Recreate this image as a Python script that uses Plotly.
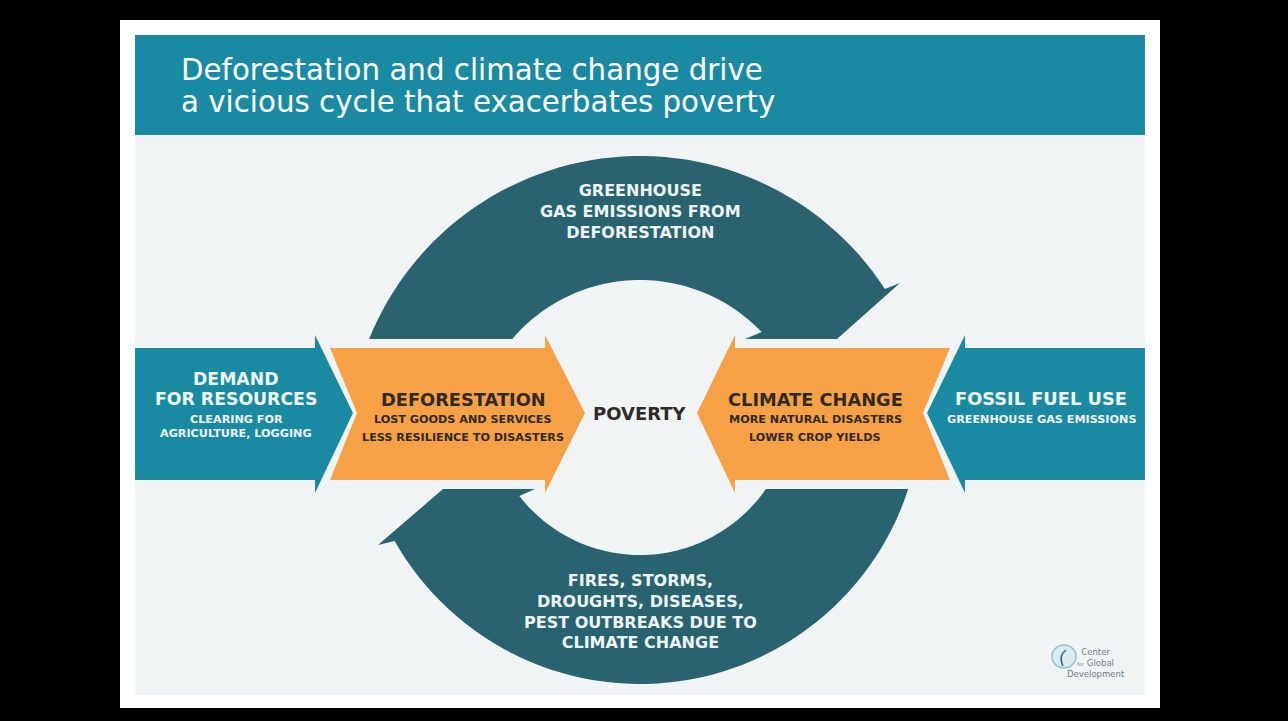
import math
import plotly.graph_objects as go

# ---------------- text content ----------------
title_lines = ["Deforestation and climate change drive",
               "a vicious cycle that exacerbates poverty"]
top_arc_lines = ["GREENHOUSE", "GAS EMISSIONS FROM", "DEFORESTATION"]
bottom_arc_lines = ["FIRES, STORMS,", "DROUGHTS, DISEASES,",
                    "PEST OUTBREAKS DUE TO", "CLIMATE CHANGE"]
demand_head = ["DEMAND", "FOR RESOURCES"]
demand_sub = ["CLEARING FOR", "AGRICULTURE, LOGGING"]
defor_head = ["DEFORESTATION"]
defor_sub = ["LOST GOODS AND SERVICES", "LESS RESILIENCE TO DISASTERS"]
climate_head = ["CLIMATE CHANGE"]
climate_sub = ["MORE NATURAL DISASTERS", "LOWER CROP YIELDS"]
fossil_head = ["FOSSIL FUEL USE"]
fossil_sub = ["GREENHOUSE GAS EMISSIONS"]
center_label = "POVERTY"
logo_lines = ["Center", "<span style='font-size:5px'>for</span> Global", "Development"]

# ---------------- colours ----------------
BLACK = "#000000"
CARD = "#ffffff"
BG = "#f1f4f5"
TEAL = "#1a8aa3"
DARK = "#28636f"
ORANGE = "#f7a146"
TXT_LIGHT = "#eef6f7"
TXT_DARK = "#2e2a26"
FONT = "DejaVu Sans"

W, H = 1288, 721
fig = go.Figure()
fig.update_layout(width=W, height=H, margin=dict(l=0, r=0, t=0, b=0),
                  paper_bgcolor=BLACK, plot_bgcolor=BLACK, showlegend=False)
fig.update_xaxes(range=[0, W], visible=False, fixedrange=True)
fig.update_yaxes(range=[H, 0], visible=False, fixedrange=True)

shapes = []


def rect(x0, y0, x1, y1, color):
    shapes.append(dict(type="rect", xref="x", yref="y", x0=x0, y0=y0, x1=x1, y1=y1,
                       fillcolor=color, line=dict(width=0), layer="below"))


def poly(pts, color):
    d = "M " + " L ".join(f"{x:.1f},{y:.1f}" for x, y in pts) + " Z"
    shapes.append(dict(type="path", xref="x", yref="y", path=d,
                       fillcolor=color, line=dict(width=0), layer="below"))


def arc(cx, cy, r, a0, a1, n=60):
    pts = []
    for i in range(n + 1):
        a = math.radians(a0 + (a1 - a0) * i / n)
        pts.append((cx + r * math.cos(a), cy - r * math.sin(a)))
    return pts


# card and panels
rect(120, 20, 1160, 708, CARD)
rect(135, 135, 1145, 695, BG)
rect(135, 35, 1145, 135, TEAL)

# ---------------- cycle arcs ----------------
# top arc
cx, cy, ro, ri = 640, 448, 292, 168
top = arc(cx, cy, ro, 158.1, 33.0)
top += [(900, 283), (837, 339), (745, 339)]
top += arc(cx, cy, ri, 43.6, 139.5)
poly(top, DARK)

# bottom arc
cx, cy, ro, ri = 640, 402, 282, 153
bot = arc(cx, cy, ro, -17.97, -150.5)
bot += [(378, 545), (443, 489), (535, 489)]
bot += arc(cx, cy, ri, -142.1, -34.65)
poly(bot, DARK)

# ---------------- horizontal arrows ----------------
ymid, ytop, ybot, hyt, hyb = 413, 348, 480, 335, 493
poly([(135, ytop), (315, ytop), (315, hyt), (353, ymid), (315, hyb), (315, ybot), (135, ybot)], TEAL)
poly([(330, ytop), (545, ytop), (545, hyt), (585, ymid), (545, hyb), (545, ybot), (330, ybot), (357, ymid)], ORANGE)
poly([(950, ytop), (735, ytop), (735, hyt), (697, ymid), (735, hyb), (735, ybot), (950, ybot), (923, ymid)], ORANGE)
poly([(1145, ytop), (965, ytop), (965, hyt), (927, ymid), (965, hyb), (965, ybot), (1145, ybot)], TEAL)

# logo globe
shapes.append(dict(type="circle", xref="x", yref="y", x0=1052, y0=645, x1=1076, y1=668,
                   fillcolor="rgba(200,225,235,0.5)", line=dict(color="#8fc3d6", width=1.5)))
shapes.append(dict(type="path", xref="x", yref="y", path="M 1066,650 Q 1058,656 1063,666",
                   line=dict(color="#2a6f86", width=1.5)))

fig.update_layout(shapes=shapes)

# ---------------- text ----------------
ann = []


def text(x, y, s, size, color, weight=400, xanchor="center", align="center"):
    ann.append(dict(x=x, y=y, xref="x", yref="y", text=s, showarrow=False,
                    xanchor=xanchor, yanchor="middle", align=align,
                    font=dict(family=FONT, size=size, color=color, weight=weight)))


for s, y in zip(title_lines, [70, 102]):
    text(179, y, s, 29.3, "#ffffff", xanchor="left")

text(640, 211, "<br>".join(top_arc_lines), 16, TXT_LIGHT, 700)
text(640, 611, "<br>".join(bottom_arc_lines), 16, TXT_LIGHT, 700)

for s, y in zip(demand_head, [379, 399]):
    text(236, y, s, 17.3, TXT_LIGHT, 700)
for s, y in zip(demand_sub, [419, 433]):
    text(236, y, s, 11.2, TXT_LIGHT, 700)

text(463, 399, defor_head[0], 17.8, TXT_DARK, 700)
for s, y in zip(defor_sub, [419, 437]):
    text(463, y, s, 11.2, TXT_DARK, 700)

text(640, 413, center_label, 18, TXT_DARK, 700)

text(815, 399, climate_head[0], 17.8, TXT_DARK, 700)
for s, y in zip(climate_sub, [419, 437]):
    text(815, y, s, 11.2, TXT_DARK, 700)

text(1041, 398, fossil_head[0], 17.8, TXT_LIGHT, 700)
text(1041, 419, fossil_sub[0], 11.2, TXT_LIGHT, 700)

text(1096, 663, "<br>".join(logo_lines), 8.5, "#6f7f86")

fig.update_layout(annotations=ann)
fig.write_html("out.html", config={"displayModeBar": False},
               post_script="document.body.style.margin='0';document.body.style.background='#000';")
